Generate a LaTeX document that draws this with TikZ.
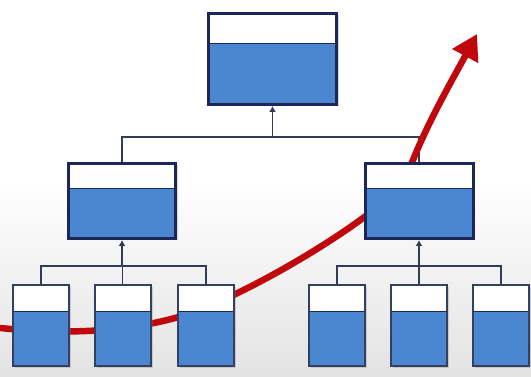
\documentclass[tikz,border=0pt]{standalone}
\usepackage{tikz}
\usetikzlibrary{calc,shadows,arrows.meta}

\definecolor{boxblue}{RGB}{74,135,208}
\definecolor{boxnavy}{RGB}{28,38,88}
\definecolor{boxslate}{RGB}{52,64,96}
\definecolor{linkgray}{RGB}{50,60,85}
\definecolor{trendred}{RGB}{192,8,12}

\pgfdeclarelayer{paper}
\pgfdeclarelayer{wires}
\pgfsetlayers{paper,wires,main}

\tikzset{
	unitbox/.style={draw=boxnavy, fill=boxblue, line width=3pt, inner sep=0pt,
		drop shadow={shadow xshift=2pt, shadow yshift=-2pt, opacity=0.3},
		path picture={
			\fill[white] (path picture bounding box.north west) rectangle
				($(path picture bounding box.north east)!0.33!(path picture bounding box.south east)$);
			\draw[line width=1.4pt, draw=boxnavy]
				($(path picture bounding box.north west)!0.33!(path picture bounding box.south west)$) --
				($(path picture bounding box.north east)!0.33!(path picture bounding box.south east)$);
		}},
	leafbox/.style={unitbox, draw=boxslate, line width=2pt, minimum width=56pt, minimum height=81pt},
	link/.style={draw=linkgray, line width=1.3pt},
	uplink/.style={link, -{Latex[length=6pt,width=7pt]}},
	trend/.style={draw=trendred, line width=6.5pt, -{Triangle[length=25pt,width=28pt]}}
}

\begin{document}
\begin{tikzpicture}[x=1pt,y=1pt]
			%%%%% START %%%%%
			
			% background
			\begin{pgfonlayer}{paper}
			\fill[white] (0,0) rectangle (531,-377);
			\shade[top color=white, bottom color=black!11] (0,-180) rectangle (531,-377);
			\end{pgfonlayer}
			\useasboundingbox (0,0) rectangle (531,-377);
			
			% the boxes
			\node[unitbox, minimum width=128pt, minimum height=91pt] (top) at (272.5,-59) {};
			\node[unitbox, minimum width=107pt, minimum height=75pt] (midL) at (122,-201) {};
			\node[unitbox, minimum width=108pt, minimum height=75pt] (midR) at (419,-201) {};
			
			\node[leafbox] (b1) at (41,-325.5) {};
			\node[leafbox] (b2) at (122.5,-325.5) {};
			\node[leafbox] (b3) at (206,-325.5) {};
			\node[leafbox] (b4) at (337,-325.5) {};
			\node[leafbox] (b5) at (419,-325.5) {};
			\node[leafbox] (b6) at (501,-325.5) {};
			
			% joints of the connectors
			\coordinate (barT) at (272.5,-137);
			\coordinate (barL) at (122,-266);
			\coordinate (barR) at (419,-266);
			
			% free ends of the red curve
			\coordinate (trendstart) at (0,-328);
			\coordinate (trendin) at (363,-218);
			\coordinate (trendout) at (413,-160);
			\coordinate (trendtip) at (477,-34);
			
			\begin{pgfonlayer}{wires}
			\draw[link] (midL.north) |- (barT -| midR.north) -- (midR.north);
			\draw[uplink] (barT) -- (top.south);
			
			\draw[link] (b1.north) |- (barL -| b3.north) -- (b3.north);
			\draw[link] (b2.north) -- (b2.north |- barL);
			\draw[uplink] (barL) -- (midL.south);
			
			\draw[link] (b4.north) |- (barR -| b6.north) -- (b6.north);
			\draw[link] (b5.north) -- (b5.north |- barR);
			\draw[uplink] (barR) -- (midR.south);
			
			\draw[trend] (trendstart) .. controls (60,-334) and (120,-333) .. (175,-318)
				.. controls (230,-303) and (320,-250) .. (trendin)
				.. controls (390,-198) and (405,-180) .. (trendout)
				.. controls (430,-118) and (455,-75) .. (trendtip);
			\end{pgfonlayer}
			
			%%%%% END %%%%%
\end{tikzpicture}
\end{document}
